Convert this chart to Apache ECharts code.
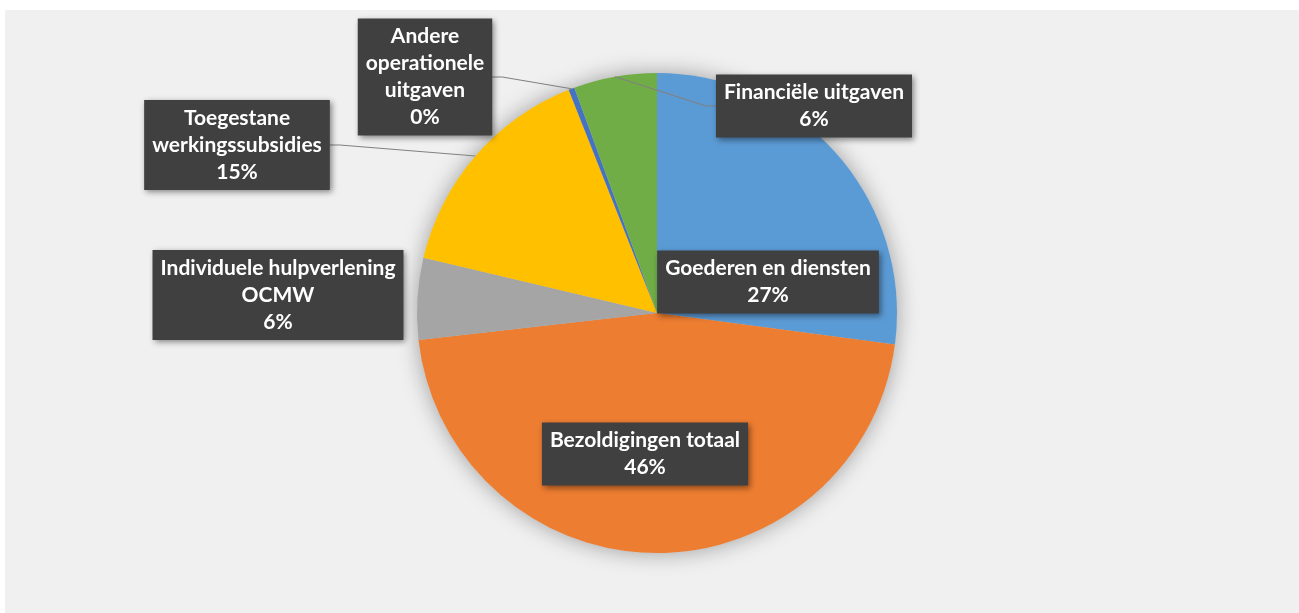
<!DOCTYPE html>
<html>
<head>
<meta charset="utf-8">
<script src="https://cdn.jsdelivr.net/npm/echarts@6/dist/echarts.min.js"></script>
<style>
  html, body { margin: 0; padding: 0; background: #ffffff; }
  #chart { position: absolute; left: 5px; top: 10px; width: 1294px; height: 603px; background: #f0f0f0; }
</style>
</head>
<body>
<div id="chart"></div>
<script>
  // uitgaven per categorie (aandeel in %)
  const categories = [
    'Goederen en diensten',
    'Bezoldigingen totaal',
    'Individuele hulpverlening\nOCMW',
    'Toegestane\nwerkingssubsidies',
    'Andere\noperationele\nuitgaven',
    'Financiële uitgaven'
  ]
  const values = [27.1, 46.1, 5.5, 15.3, 0.4, 5.6]
  const colors = ['#5b9bd5', '#ed7d31', '#a5a5a5', '#ffc000', '#4472c4', '#70ad47']

  // label box centres (chart coords), like the excel layout
  const labelPos = [
    [763, 272], [640, 444], [273, 285], [232, 135], [420, 67], [809, 96]
  ]
  const insideLabel = [true, true, false, false, false, false]
  const showLine = [false, false, false, true, true, true]

  const cx = 652, cy = 303, r = 240

  const myChart = echarts.init(document.getElementById('chart'))

  const pieData = categories.map((name, i) => ({
    name: name,
    value: values[i],
    itemStyle: { color: colors[i] },
    label: { position: insideLabel[i] ? 'inside' : 'outside' },
    labelLine: { show: showLine[i] }
  }))

  const option = {
    animation: false,
    series: [
      {
        // schaduw onder de taart
        type: 'pie',
        silent: true,
        radius: r,
        center: [cx, cy],
        startAngle: 90,
        data: values.map(v => ({ value: v })),
        itemStyle: {
          color: '#d0d0d0',
          shadowBlur: 22,
          shadowColor: 'rgba(0,0,0,0.35)'
        },
        label: { show: false },
        labelLine: { show: false },
        z: 1
      },
      {
        name: 'Uitgaven',
        type: 'pie',
        radius: r,
        center: [cx, cy],
        startAngle: 90,
        z: 2,
        data: pieData,
        itemStyle: { borderWidth: 0 },
        label: {
          show: true,
          formatter: p => p.name + '\n' + Math.round(p.percent) + '%',
          color: '#ffffff',
          fontFamily: 'Lato',
          fontWeight: 'bold',
          fontSize: 21,
          lineHeight: 27,
          align: 'center',
          backgroundColor: '#404040',
          padding: [5, 8, 4, 8],
          shadowColor: 'rgba(0,0,0,0.45)',
          shadowBlur: 6,
          shadowOffsetX: 2,
          shadowOffsetY: 2
        },
        labelLine: {
          show: true,
          showAbove: true,
          length: 10,
          length2: 10,
          lineStyle: { color: '#808080', width: 1.2 }
        },
        labelLayout: function (params) {
          const p = labelPos[params.dataIndex]
          return { x: p[0], y: p[1], align: 'center', verticalAlign: 'middle', hideOverlap: false }
        }
      }
    ]
  }
  myChart.setOption(option)
</script>
</body>
</html>
